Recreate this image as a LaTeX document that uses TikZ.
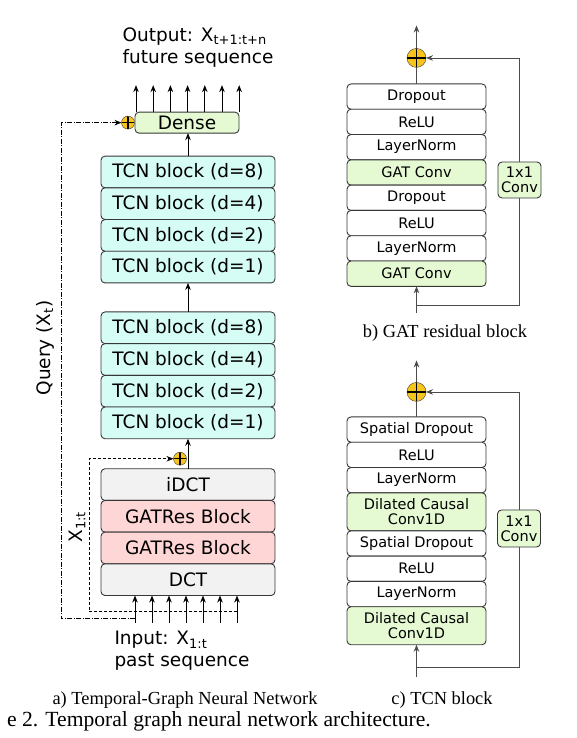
\documentclass[tikz,border=0pt]{standalone}
\usepackage{fontspec}
\setmainfont{Liberation Serif}
\setsansfont{DejaVu Sans}
\usetikzlibrary{arrows.meta,positioning,calc}
\definecolor{mycyan}{RGB}{213,252,245}
\definecolor{mygreen}{RGB}{229,250,211}
\definecolor{mypink}{RGB}{255,214,214}
\definecolor{mygray}{RGB}{242,242,242}
\definecolor{myyellow}{RGB}{246,196,28}
\definecolor{myline}{RGB}{55,55,55}
\tikzset{
  blk/.style={draw=myline,rounded corners=4pt,line width=0.9pt,outer sep=0pt,inner sep=0pt,
              font=\sffamily\fontsize{18.5}{20}\selectfont,minimum width=174pt,minimum height=31.7pt},
  tcn/.style={blk,fill=mycyan},
  sblk/.style={blk,fill=white,align=center,font=\sffamily\fontsize{14.5}{15}\selectfont,
               minimum width=139pt,minimum height=25.3pt},
  conv/.style={sblk,fill=mygreen,minimum height=38pt},
  addop/.style={circle,draw=myline,fill=myyellow,minimum size=13pt,inner sep=0pt,outer sep=0pt,
                path picture={\draw[black,line width=1.2pt]
                  (path picture bounding box.north) -- (path picture bounding box.south)
                  (path picture bounding box.west) -- (path picture bounding box.east);}},
  arr/.style={-{Stealth[length=7pt,width=5.5pt]},line width=0.8pt},
  ln/.style={line width=0.8pt,draw=myline!90},
  lbl/.style={font=\sffamily\fontsize{18.5}{22}\selectfont},
  subcap/.style={font=\fontsize{18.4}{20}\selectfont},
}
\begin{document}
\begin{tikzpicture}[x=1pt,y=1pt]
  \useasboundingbox (0,0) rectangle (576,738);
  % a) temporal-graph network
  \node[tcn] (tcnA8) at (188,566) {TCN block (d=8)};
  \node[tcn,below=0pt of tcnA8] (tcnA4) {TCN block (d=4)};
  \node[tcn,below=0pt of tcnA4] (tcnA2) {TCN block (d=2)};
  \node[tcn,below=0pt of tcnA2] (tcnA1) {TCN block (d=1)};
  \node[tcn,below=29pt of tcnA1] (tcnB8) {TCN block (d=8)};
  \node[tcn,below=0pt of tcnB8] (tcnB4) {TCN block (d=4)};
  \node[tcn,below=0pt of tcnB4] (tcnB2) {TCN block (d=2)};
  \node[tcn,below=0pt of tcnB2] (tcnB1) {TCN block (d=1)};
  \node[blk,fill=mygray,below=30pt of tcnB1] (idct) {iDCT};
  \node[blk,fill=mypink,below=0pt of idct] (gatA) {GATRes Block};
  \node[blk,fill=mypink,below=0pt of gatA] (gatB) {GATRes Block};
  \node[blk,fill=mygray,below=0pt of gatB] (dct) {DCT};
  \node[blk,fill=mygreen,minimum width=104pt,minimum height=21pt,
        above=23pt of tcnA8,xshift=-1pt] (dense) {Dense};
  \node[addop,left=0.5pt of dense] (addT) {};
  \node[addop] (addB) at ($(idct.north)+(-8,10)$) {};
  \foreach \i in {0,...,6} {
    \coordinate (in\i) at ($(dct.south west)+(34+17*\i,-27)$);
    \draw[arr] (in\i) -- (in\i |- dct.south);
    \coordinate (out\i) at ($(dense.north west)+(1+17.2*\i,27)$);
    \draw[arr] (out\i |- dense.north) -- (out\i);
  }
  \draw[arr] (tcnA8.north) -- (tcnA8.north |- dense.south);
  \draw[arr] (tcnB8.north) -- (tcnA1.south);
  \draw[arr] (idct.north) -- (tcnB1.south);
  \draw[arr,line width=0.7pt,dash pattern=on 3pt off 2pt] ($(in6)+(0,11)$) -- ++(-148,0) |- (addB.west);
  \draw[arr,line width=0.7pt,dash pattern=on 5pt off 1.5pt on 1pt off 1.5pt]
    ($(in0)+(0,4)$) -- ++(-74,0) |- (addT.west);
  \node[lbl,rotate=90] (query) at (45,390) {Query (X\textsubscript{t})};
  \node[lbl,rotate=90] (xpast) at (77,211) {X\textsubscript{1:t}};
  \node[lbl,align=left] (inlbl) at (182,87) {Input: X\textsubscript{1:t}\\past sequence};
  \node[lbl,align=left] (outlbl) at (198,690.5) {Output: X\textsubscript{t+1:t+n}\\future sequence};
  \node[subcap] (capa) at (185,38) {a) Temporal-Graph Neural Network};

  % b) GAT residual block
  \node[sblk] (gd2) at (416.5,641.4) {Dropout};
  \node[sblk,below=0pt of gd2] (gr2) {ReLU};
  \node[sblk,below=0pt of gr2] (gn2) {LayerNorm};
  \node[sblk,fill=mygreen,below=0pt of gn2] (gc2) {GAT Conv};
  \node[sblk,below=0pt of gc2] (gd1) {Dropout};
  \node[sblk,below=0pt of gd1] (gr1) {ReLU};
  \node[sblk,below=0pt of gr1] (gn1) {LayerNorm};
  \node[sblk,fill=mygreen,below=0pt of gn1] (gc1) {GAT Conv};
  \node[addop,minimum size=19pt,above=16.5pt of gd2] (gadd) {};
  \coordinate[above=23pt of gadd] (gout);
  \coordinate (gin) at (416.5,425);
  \node[sblk,fill=mygreen,minimum width=43pt,minimum height=36pt] (gconv) at (519.5,558) {1x1\\Conv};
  \draw[ln] (gd2.north) -- (gadd);
  \draw[ln,arr] (gadd) -- (gout);
  \draw[ln,arr] (gin) -- (gc1.south);
  \draw[ln] ($(gin)+(0,8)$) -| (gconv.south);
  \draw[ln,arr] (gconv.north) |- (gadd.east);
  \node[subcap] (capb) at (445,405) {b) GAT residual block};

  % c) TCN block
  \node[sblk] (td2) at (416.5,308.4) {Spatial Dropout};
  \node[sblk,below=0pt of td2] (tr2) {ReLU};
  \node[sblk,below=0pt of tr2] (tn2) {LayerNorm};
  \node[conv,below=0pt of tn2] (tc2) {Dilated Causal\\Conv1D};
  \node[sblk,below=0pt of tc2] (td1) {Spatial Dropout};
  \node[sblk,below=0pt of td1] (tr1) {ReLU};
  \node[sblk,below=0pt of tr1] (tn1) {LayerNorm};
  \node[conv,below=0pt of tn1] (tc1) {Dilated Causal\\Conv1D};
  \node[addop,minimum size=19pt,above=15.5pt of td2] (tadd) {};
  \coordinate[above=22pt of tadd] (tout);
  \coordinate (tin) at (416.5,61);
  \node[sblk,fill=mygreen,minimum width=43pt,minimum height=37pt] (tconv) at (519,209.5) {1x1\\Conv};
  \draw[ln] (td2.north) -- (tadd);
  \draw[ln,arr] (tadd) -- (tout);
  \draw[ln,arr] (tin) -- (tc1.south);
  \draw[ln] ($(tin)+(0,10)$) -| (tconv.south);
  \draw[ln,arr] (tconv.north) |- (tadd.east);
  \node[subcap] (capc) at (442,38) {c) TCN block};

  \node[font=\fontsize{21.6}{23}\selectfont,anchor=base east,inner sep=1pt] (figcap) at (432,11)
    {e 2. Temporal graph neural network architecture.};
\end{tikzpicture}
\end{document}
